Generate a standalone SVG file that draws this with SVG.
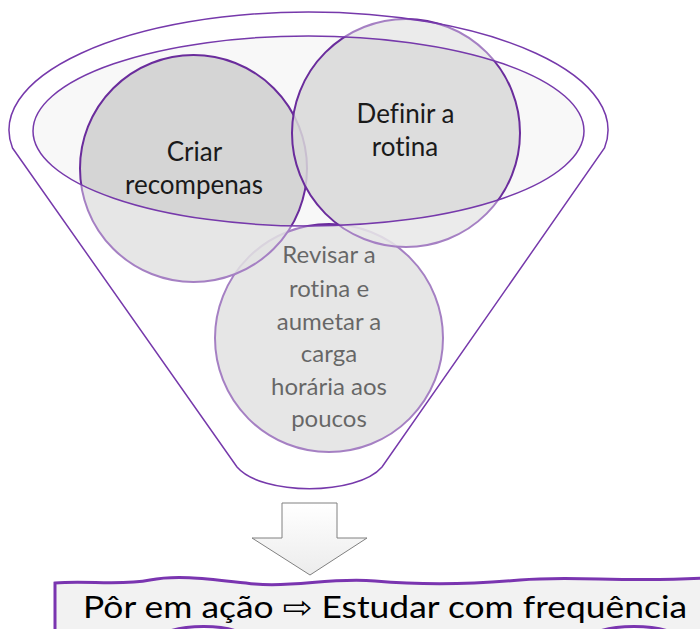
<svg xmlns="http://www.w3.org/2000/svg" width="700" height="629" viewBox="0 0 700 629">
<style>
.ln{fill:none;stroke:#7639ab;stroke-width:1.5}
.circ{fill:#cfcfcf;fill-opacity:0.85;stroke:#6a2c9c;stroke-width:2}
.t{font-family:Lato,"Noto Sans","DejaVu Sans",sans-serif;font-weight:400;font-variant-ligatures:none;text-anchor:middle;fill:#1a1a1a}
.tb{font-size:26px}
.tr{font-size:24px;fill:#000}
</style>
<defs>
<linearGradient id="ag" x1="0" y1="0" x2="0" y2="1">
<stop offset="0" stop-color="#ffffff"/>
<stop offset="1" stop-color="#ececec"/>
</linearGradient>
</defs>
<g id="funnel-base">
<ellipse cx="308.5" cy="131" rx="275.5" ry="95" fill="#f8f8f8"/>
</g>
<g id="node-revisar">
<circle class="circ" cx="329" cy="338" r="114"/>
<text class="t tr"><tspan x="329" y="263">Revisar a</tspan><tspan x="329" y="297">rotina e</tspan><tspan x="329" y="330">aumetar a</tspan><tspan x="329" y="362">carga</tspan><tspan x="329" y="395">horária aos</tspan><tspan x="329" y="427">poucos</tspan></text>
</g>
<g id="node-criar">
<circle class="circ" cx="193.5" cy="168.5" r="113.5"/>
<text class="t tb"><tspan x="194.5" y="161">Criar</tspan><tspan x="194" y="194">recompenas</tspan></text>
</g>
<g id="node-definir">
<circle class="circ" cx="406" cy="133" r="114" style="fill:#d8d8d8"/>
<text class="t tb"><tspan x="405.5" y="123">Definir a</tspan><tspan x="405" y="156">rotina</tspan></text>
</g>
<g id="funnel-overlay">
<path fill="#ffffff" fill-opacity="0.4" fill-rule="evenodd" d="M12.5,148 L237,467 C262,496 357,496 382,467 L604.5,148 A299.5,118 0 1 0 12.5,148 Z M33,131 A275.5,95 0 1 0 584,131 A275.5,95 0 1 0 33,131 Z"/>
</g>
<g id="funnel-outline">
<path class="ln" d="M12.5,148 L237,467 C262,496 357,496 382,467 L604.5,148 A299.5,118 0 1 0 12.5,148 Z"/>
<ellipse class="ln" cx="308.5" cy="131" rx="275.5" ry="95"/>
</g>
<g id="connectors">
<polygon points="282,503 337,503 337,538 367,538 310,575 252,538 282,538" fill="url(#ag)" stroke="#808080" stroke-width="1"/>
</g>
<g id="node-result">
<path d="M55,583 C85,580 120,586 150,580 S215,580 255,584 S330,577 375,581 S465,585 520,580 S620,583 705,578 L705,637 Q690,636 668,631 C650,625 618,625 600,631 Q580,637 250,637 Q240,636 236,631 C220,625 188,625 170,631 Q150,637 55,637 Z" fill="#f2f2f2" stroke="#7a35b0" stroke-width="3"/>
<text class="t" x="385" y="618" style="font-size:31px;fill:#000" textLength="604" lengthAdjust="spacingAndGlyphs">Pôr em ação ⇨ Estudar com frequência</text>
</g>
</svg>
